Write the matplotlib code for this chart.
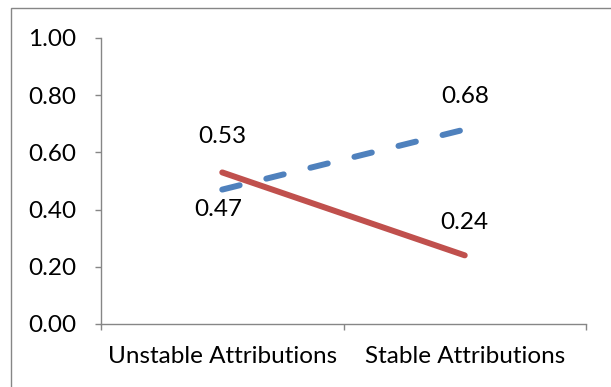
import matplotlib.pyplot as plt
from matplotlib.patches import Rectangle

categories = ["Unstable Attributions", "Stable Attributions"]
blue_vals = [0.47, 0.68]
red_vals = [0.53, 0.24]
blue_labels = ["0.47", "0.68"]
red_labels = ["0.53", "0.24"]
yticks = [0.0, 0.2, 0.4, 0.6, 0.8, 1.0]

plt.rcParams['font.family'] = ['Lato', 'DejaVu Sans']
gray = "#868686"

fig = plt.figure(figsize=(6.11, 3.87), dpi=100)
ax = fig.add_axes([101/611, 1-324/387, (586-101)/611, (324-38)/387])

x = list(range(len(categories)))
ax.plot(x, blue_vals, color="#4F81BD", lw=4.3, ls=(0, (3.0, 4.6)),
        solid_capstyle="round", dash_capstyle="round")
ax.plot(x, red_vals, color="#C0504D", lw=4.3, solid_capstyle="round")

fs = 17.5
ax.annotate(red_labels[0], (x[0], red_vals[0]), xytext=(0, 18), textcoords="offset points",
            ha="center", va="bottom", fontsize=fs)
ax.annotate(blue_labels[0], (x[0], blue_vals[0]), xytext=(-3, -7), textcoords="offset points",
            ha="center", va="top", fontsize=fs)
ax.annotate(blue_labels[1], (x[1], blue_vals[1]), xytext=(0, 16), textcoords="offset points",
            ha="center", va="bottom", fontsize=fs)
ax.annotate(red_labels[1], (x[1], red_vals[1]), xytext=(0, 16), textcoords="offset points",
            ha="center", va="bottom", fontsize=fs)

ax.set_xlim(-0.5, 1.5)
ax.set_ylim(0, 1.0)
ax.set_yticks(yticks)
ax.set_yticklabels([f"{v:.2f}" for v in yticks], fontsize=fs)
ax.set_xticks(x)
ax.set_xticklabels(categories, fontsize=fs)
ax.set_xticks([-0.5, 0.5, 1.5], minor=True)
ax.tick_params(axis="x", which="major", length=0, pad=16)
ax.tick_params(axis="x", which="minor", length=4, color=gray, width=1)
ax.tick_params(axis="y", length=4, color=gray, width=1, pad=14)

for s in ["top", "right"]:
    ax.spines[s].set_visible(False)
for s in ["left", "bottom"]:
    ax.spines[s].set_color(gray)
    ax.spines[s].set_linewidth(1)

fig.patches.append(Rectangle((11/611, -0.1), 1.1, 1-8/387+0.1, transform=fig.transFigure,
                             fill=False, edgecolor=gray, lw=1))

fig.savefig("out.png", dpi=100)
